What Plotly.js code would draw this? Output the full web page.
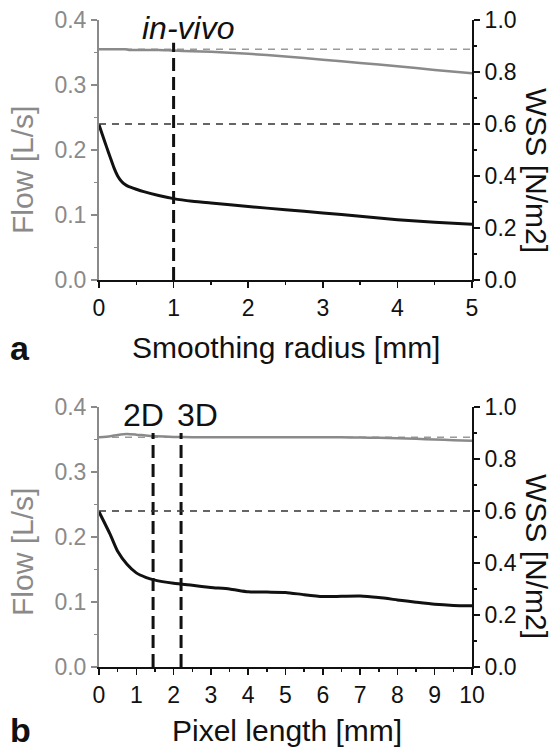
<!DOCTYPE html>
<html>
<head>
<meta charset="utf-8">
<script src="https://cdn.plot.ly/plotly-3.0.1.min.js"></script>
<style>html,body{margin:0;padding:0;background:#fff;}#chart{width:554px;height:750px;}</style>
</head>
<body>
<div id="chart"></div>
<script>
// ---- Panel a: smoothing radius ----
var smoothX    = [0, 0.05, 0.1, 0.15, 0.2, 0.25, 0.3, 0.35, 0.4, 0.5, 0.6, 0.8, 1, 1.25, 1.5, 2, 2.5, 3, 3.5, 4, 4.5, 5];
var smoothFlow = [0.355, 0.355, 0.355, 0.355, 0.355, 0.355, 0.355, 0.355, 0.354, 0.354, 0.354, 0.354, 0.353, 0.352, 0.351, 0.348, 0.344, 0.339, 0.334, 0.329, 0.323, 0.318];
var smoothWss  = [0.597, 0.555, 0.513, 0.472, 0.432, 0.400, 0.380, 0.367, 0.359, 0.349, 0.340, 0.325, 0.313, 0.303, 0.296, 0.283, 0.270, 0.258, 0.245, 0.232, 0.222, 0.214];
var refFlowA = 0.355;     // reference flow (dashed grey)
var refWssA  = 0.6;       // reference WSS (dashed black)
var markA    = [1];       // in-vivo smoothing radius
var markTopA = 0.365;

// ---- Panel b: pixel length ----
var pixX    = [0, 0.3, 0.5, 0.75, 1, 1.25, 1.5, 2, 2.5, 3, 3.5, 4, 4.5, 5, 5.5, 6, 6.5, 7, 7.5, 8, 8.5, 9, 9.5, 10];
var pixFlow = [0.3534, 0.355, 0.357, 0.3585, 0.3575, 0.356, 0.355, 0.354, 0.3535, 0.3535, 0.3535, 0.3535, 0.3535, 0.3535, 0.3535, 0.3535, 0.3533, 0.353, 0.3527, 0.352, 0.351, 0.350, 0.349, 0.348];
var pixWss  = [0.597, 0.510, 0.445, 0.395, 0.362, 0.345, 0.334, 0.322, 0.314, 0.306, 0.300, 0.289, 0.288, 0.287, 0.278, 0.271, 0.272, 0.273, 0.267, 0.258, 0.249, 0.241, 0.237, 0.236];
var refFlowB = 0.3534;
var refWssB  = 0.6;
var markB    = [1.45, 2.2];   // 2D, 3D pixel lengths
var markLabelsB = ['2D', '3D'];
var markLabelXB = [1.18, 2.63];
var markTopB = 0.36;

var xTicksA = [0, 1, 2, 3, 4, 5];
var xTicksB = [0, 1, 2, 3, 4, 5, 6, 7, 8, 9, 10];

var GREY = '#8a8a8a';
var FONT = 'Liberation Sans, Arial, Helvetica, sans-serif';
var W = 554, H = 750;

function endpoints(xs) { return [xs[0], xs[xs.length - 1]]; }

var traces = [];
// Panel a
traces.push({x: endpoints(smoothX), y: [refFlowA, refFlowA], xaxis: 'x', yaxis: 'y', mode: 'lines',
  line: {color: '#9a9a9a', width: 1.5, dash: '7px,6px'}});
traces.push({x: endpoints(smoothX), y: [refWssA, refWssA], xaxis: 'x', yaxis: 'y2', mode: 'lines',
  line: {color: '#333', width: 1.5, dash: '7px,6px'}});
traces.push({x: smoothX, y: smoothFlow, xaxis: 'x', yaxis: 'y', mode: 'lines',
  line: {color: GREY, width: 2.5, shape: 'spline', smoothing: 0.6}});
traces.push({x: smoothX, y: smoothWss, xaxis: 'x', yaxis: 'y2', mode: 'lines',
  line: {color: '#111', width: 3, shape: 'spline', smoothing: 0.6}});
markA.forEach(function (m) {
  traces.push({x: [m, m], y: [0, markTopA], xaxis: 'x', yaxis: 'y', mode: 'lines',
    line: {color: '#111', width: 3, dash: '13px,6px'}});
});
// Panel b
traces.push({x: endpoints(pixX), y: [refFlowB, refFlowB], xaxis: 'x2', yaxis: 'y3', mode: 'lines',
  line: {color: '#9a9a9a', width: 1.5, dash: '7px,6px'}});
traces.push({x: endpoints(pixX), y: [refWssB, refWssB], xaxis: 'x2', yaxis: 'y4', mode: 'lines',
  line: {color: '#333', width: 1.5, dash: '7px,6px'}});
traces.push({x: pixX, y: pixFlow, xaxis: 'x2', yaxis: 'y3', mode: 'lines',
  line: {color: GREY, width: 2.5, shape: 'spline', smoothing: 0.6}});
traces.push({x: pixX, y: pixWss, xaxis: 'x2', yaxis: 'y4', mode: 'lines',
  line: {color: '#111', width: 3, shape: 'spline', smoothing: 0.6}});
markB.forEach(function (m) {
  traces.push({x: [m, m], y: [0, markTopB], xaxis: 'x2', yaxis: 'y3', mode: 'lines',
    line: {color: '#111', width: 3, dash: '13px,6px'}});
});

var xDom = [99 / W, 472 / W];
var domA = [1 - 280 / H, 1 - 20 / H];
var domB = [1 - 667 / H, 1 - 407 / H];
var TICKSIZE = 23;

function xAxis(range, ticks, anchor) {
  return {domain: xDom, range: range, anchor: anchor, tickmode: 'array', tickvals: ticks, ticktext: ticks.map(String),
    showline: true, linecolor: '#111', linewidth: 2, ticks: 'outside', ticklen: 6, tickwidth: 1.5, tickcolor: '#111',
    minor: {dtick: 0.5, tick0: 0, ticks: 'outside', ticklen: 3, tickwidth: 1.5, tickcolor: '#111'},
    showgrid: false, zeroline: false, tickfont: {family: FONT, size: TICKSIZE, color: '#111'}, fixedrange: true};
}
function yLeft(dom, anchor) {
  return {domain: dom, range: [0, 0.4], anchor: anchor, dtick: 0.1, tick0: 0, tickformat: '.1f',
    showline: true, linecolor: GREY, linewidth: 2, ticks: 'outside', ticklen: 6, tickwidth: 1.5, tickcolor: GREY,
    minor: {dtick: 0.05, ticks: 'outside', ticklen: 3, tickwidth: 1.5, tickcolor: GREY},
    showgrid: false, zeroline: false, tickfont: {family: FONT, size: TICKSIZE, color: GREY}, fixedrange: true};
}
function yRight(over, anchor) {
  return {overlaying: over, side: 'right', anchor: anchor, range: [0, 1], dtick: 0.2, tick0: 0, tickformat: '.1f',
    showline: true, linecolor: '#111', linewidth: 2, ticks: 'outside', ticklen: 6, tickwidth: 1.5, tickcolor: '#111',
    minor: {dtick: 0.1, ticks: 'outside', ticklen: 3, tickwidth: 1.5, tickcolor: '#111'},
    showgrid: false, zeroline: false, tickfont: {family: FONT, size: TICKSIZE, color: '#111'}, fixedrange: true};
}

var ann = [];
function txt(t, x, y, opts) {
  var a = {text: t, x: x, y: y, xref: 'paper', yref: 'paper', showarrow: false, xanchor: 'center', yanchor: 'middle',
    font: {family: FONT, size: 30, color: '#111'}};
  for (var k in opts) a[k] = opts[k];
  ann.push(a);
}
txt('<i>in-vivo</i>', 1.19, 1 - 28 / H, {xref: 'x', font: {family: FONT, size: 32, color: '#111'}});
markB.forEach(function (m, i) {
  txt(markLabelsB[i], markLabelXB[i], 1 - 415 / H, {xref: 'x2', font: {family: FONT, size: 32, color: '#111'}});
});
txt('<b>a</b>', 20 / W, 1 - 348 / H, {font: {family: FONT, size: 34, color: '#111'}});
txt('<b>b</b>', 20 / W, 1 - 730 / H, {font: {family: FONT, size: 34, color: '#111'}});
txt('Smoothing radius [mm]', 286 / W, 1 - 347 / H, {});
txt('Pixel length [mm]', 287 / W, 1 - 730 / H, {});
txt('Flow [L/s]', 22 / W, 1 - 170 / H, {textangle: -90, font: {family: FONT, size: 30, color: GREY}});
txt('Flow [L/s]', 22 / W, 1 - 552 / H, {textangle: -90, font: {family: FONT, size: 30, color: GREY}});
txt('WSS [N/m2]', 537 / W, 1 - 170 / H, {textangle: 90});
txt('WSS [N/m2]', 537 / W, 1 - 556 / H, {textangle: 90});

var layout = {
  width: W, height: H, margin: {l: 0, r: 0, t: 0, b: 0}, paper_bgcolor: '#fff', plot_bgcolor: 'rgba(0,0,0,0)',
  showlegend: false, hovermode: false,
  xaxis: xAxis([0, 5], xTicksA, 'y'),
  yaxis: yLeft(domA, 'x'),
  yaxis2: yRight('y', 'x'),
  xaxis2: xAxis([0, 10], xTicksB, 'y3'),
  yaxis3: yLeft(domB, 'x2'),
  yaxis4: yRight('y3', 'x2'),
  annotations: ann
};

Plotly.newPlot('chart', traces, layout, {staticPlot: true, displayModeBar: false});
</script>
</body>
</html>
